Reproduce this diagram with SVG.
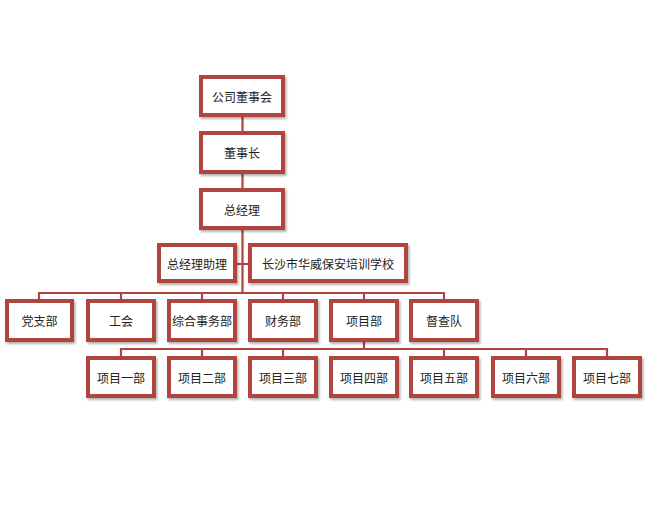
<svg xmlns="http://www.w3.org/2000/svg" width="648" height="510" viewBox="0 0 648 510">
<defs>
<filter id="sh" x="-10%" y="-10%" width="130%" height="140%">
<feDropShadow dx="1.5" dy="2" stdDeviation="1.2" flood-color="#000" flood-opacity="0.3"/>
</filter>
</defs>
<style>
.b{fill:#fff;stroke:#b0443f;stroke-width:4;filter:url(#sh)}
.t{font-family:"Noto Sans CJK SC","Liberation Sans",sans-serif;font-size:12px;fill:#222;text-anchor:middle;dominant-baseline:central}
.c{fill:none;stroke:#b0443f;stroke-width:2.2}
</style>
<rect width="648" height="510" fill="#fff"/>
<g id="connectors">
<path class="c" d="M242.5 115V131M242.5 172V188M242.5 228V293M237 264H248"/>
<path class="c" d="M39 299V293H444V299M121 293V299M202 293V299M283 293V299M364 293V299"/>
<path class="c" d="M364 340V349M121 356V349H607V356M202 349V356M283 349V356M444 349V356M526 349V356"/>
</g>
<g id="n1"><rect class="b" x="201" y="77" width="82" height="38"/><text class="t" x="242" y="96">公司董事会</text></g>
<g id="n2"><rect class="b" x="201" y="133" width="82" height="39"/><text class="t" x="242" y="152.5">董事长</text></g>
<g id="n3"><rect class="b" x="201" y="190" width="82" height="38"/><text class="t" x="242" y="209">总经理</text></g>
<g id="n4"><rect class="b" x="159" y="245" width="76" height="36"/><text class="t" x="197" y="263">总经理助理</text></g>
<g id="n5"><rect class="b" x="250" y="245" width="156" height="36"/><text class="t" x="328" y="263">长沙市华威保安培训学校</text></g>
<g id="n6"><rect class="b" x="7" y="301" width="65" height="39"/><text class="t" x="39.5" y="320.5">党支部</text></g>
<g id="n7"><rect class="b" x="88" y="301" width="66" height="39"/><text class="t" x="121" y="320.5">工会</text></g>
<g id="n8"><rect class="b" x="169" y="301" width="66" height="39"/><text class="t" x="202" y="320.5">综合事务部</text></g>
<g id="n9"><rect class="b" x="250" y="301" width="66" height="39"/><text class="t" x="283" y="320.5">财务部</text></g>
<g id="n10"><rect class="b" x="331" y="301" width="66" height="39"/><text class="t" x="364" y="320.5">项目部</text></g>
<g id="n11"><rect class="b" x="411" y="301" width="66" height="39"/><text class="t" x="444" y="320.5">督查队</text></g>
<g id="n12"><rect class="b" x="88" y="358" width="66" height="38"/><text class="t" x="121" y="377">项目一部</text></g>
<g id="n13"><rect class="b" x="169" y="358" width="66" height="38"/><text class="t" x="202" y="377">项目二部</text></g>
<g id="n14"><rect class="b" x="250" y="358" width="66" height="38"/><text class="t" x="283" y="377">项目三部</text></g>
<g id="n15"><rect class="b" x="331" y="358" width="66" height="38"/><text class="t" x="364" y="377">项目四部</text></g>
<g id="n16"><rect class="b" x="411" y="358" width="66" height="38"/><text class="t" x="444" y="377">项目五部</text></g>
<g id="n17"><rect class="b" x="493" y="358" width="66" height="38"/><text class="t" x="526" y="377">项目六部</text></g>
<g id="n18"><rect class="b" x="574" y="358" width="66" height="38"/><text class="t" x="607" y="377">项目七部</text></g>
</svg>
